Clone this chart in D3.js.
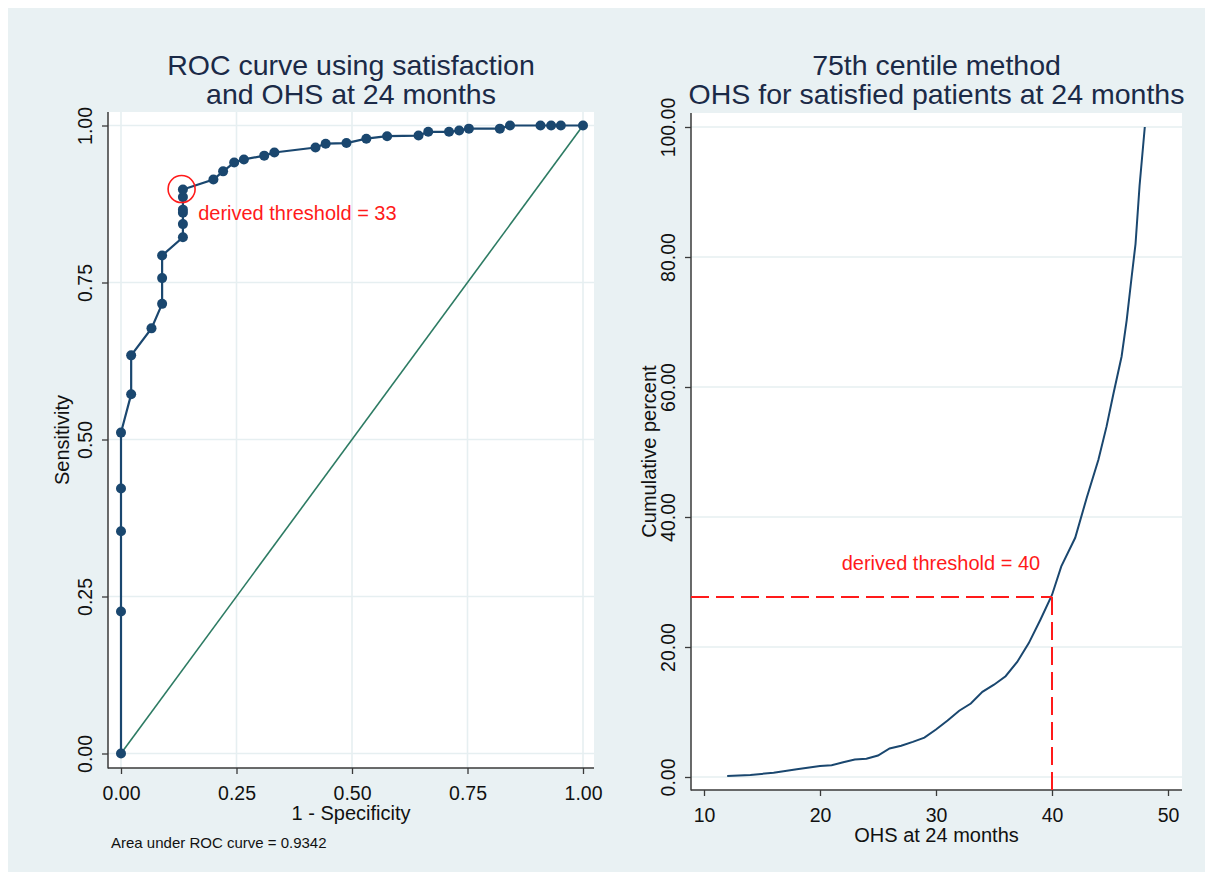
<!DOCTYPE html>
<html>
<head>
<meta charset="utf-8">
<script src="https://cdn.jsdelivr.net/npm/d3@7"></script>
<style>
  html, body { margin: 0; padding: 0; background: #ffffff; }
  svg { display: block; font-family: "Liberation Sans", Arial, Helvetica, sans-serif; }
</style>
</head>
<body>
<svg id="chart" width="1213" height="880"></svg>
<script>
// ---------------- DATA ----------------
// Left panel: ROC curve (1 - specificity, sensitivity)
const rocFPR = [0, 0, 0, 0, 0, 0.022, 0.022, 0.066, 0.089, 0.089, 0.089, 0.134, 0.134, 0.134, 0.134, 0.134, 0.134,
                0.200, 0.221, 0.245, 0.266, 0.310, 0.332, 0.421, 0.443, 0.488, 0.531, 0.576, 0.644, 0.665, 0.710,
                0.732, 0.753, 0.820, 0.842, 0.908, 0.931, 0.952, 1.0];
const rocTPR = [0, 0.226, 0.354, 0.422, 0.511, 0.572, 0.634, 0.677, 0.716, 0.757, 0.793, 0.822, 0.843, 0.861, 0.866, 0.886, 0.898,
                0.914, 0.927, 0.941, 0.946, 0.952, 0.957, 0.965, 0.971, 0.972, 0.979, 0.983, 0.984, 0.990, 0.990,
                0.992, 0.995, 0.995, 1.0, 1.0, 1.0, 1.0, 1.0];
const refLineX = [0, 1];
const refLineY = [0, 1];
const rocThresholdPoint = [0.134, 0.898];
const rocTicks = [0, 0.25, 0.5, 0.75, 1];
const rocTitle = ["ROC curve using satisfaction", "and OHS at 24 months"];
const rocXLabel = "1 - Specificity";
const rocYLabel = "Sensitivity";
const rocNote = "Area under ROC curve = 0.9342";
const rocAnnot = "derived threshold = 33";
const rocAnnotPos = [0.167, 0.85];

// Right panel: cumulative percent vs OHS
const ohsScore = [12, 14, 16, 18, 20, 21, 22, 23, 24, 25, 26, 27, 28, 29, 30, 31, 32, 33, 34, 35, 36, 37, 38, 39, 40,
                  40.8, 42, 43, 44, 44.7, 45.3, 46, 46.44, 46.87, 47.2, 47.55, 48];
const cumPct   = [0.15, 0.3, 0.67, 1.18, 1.7, 1.8, 2.26, 2.7, 2.8, 3.3, 4.4, 4.8, 5.4, 6.05, 7.3, 8.7, 10.2, 11.3, 13.1, 14.2, 15.5, 17.7, 20.6, 24.2, 28.0,
                  32.4, 36.8, 43.0, 48.8, 53.9, 59.0, 64.7, 70.3, 77.0, 82.0, 91.0, 100];
const centileThreshold = [40, 27.7];
const ohsXTicks = [10, 20, 30, 40, 50];
const ohsYTicks = [0, 20, 40, 60, 80, 100];
const ohsTitle = ["75th centile method", "OHS for satisfied patients at 24 months"];
const ohsXLabel = "OHS at 24 months";
const ohsYLabel = "Cumulative percent";
const ohsAnnot = "derived threshold = 40";
const ohsAnnotPos = [21.87, 31.8];

// ---------------- STYLE ----------------
const NAVY = "#1a476f", GREEN = "#2d7b63", RED = "#ff1a1a", BG = "#e9f1f3", GRID = "#e6eff1",
      AXIS = "#3a3a3a", TEXT = "#111111", TITLE = "#1b2a47";

const svg = d3.select("#chart");
svg.append("rect").attr("x", 0).attr("y", 0).attr("width", 1213).attr("height", 880).attr("fill", "#ffffff");
svg.append("rect").attr("x", 8).attr("y", 8).attr("width", 1197).attr("height", 864).attr("fill", BG);

function panel(cfg) {
  const g = svg.append("g");
  const [x0, x1, y0, y1] = cfg.box; // plot region: left, right, top, bottom
  const x = d3.scaleLinear().domain(cfg.xDom).range(cfg.xRange);
  const y = d3.scaleLinear().domain(cfg.yDom).range(cfg.yRange);
  g.append("rect").attr("x", x0).attr("y", y0).attr("width", x1 - x0).attr("height", y1 - y0).attr("fill", "#fff");

  // grid
  g.selectAll(null).data(cfg.yTicks).join("line")
    .attr("x1", x0).attr("x2", x1).attr("y1", d => y(d)).attr("y2", d => y(d))
    .attr("stroke", GRID).attr("stroke-width", 1.6);
  if (cfg.xGrid) {
    g.selectAll(null).data(cfg.xTicks).join("line")
      .attr("y1", y0).attr("y2", y1).attr("x1", d => x(d)).attr("x2", d => x(d))
      .attr("stroke", GRID).attr("stroke-width", 1.6);
  }

  // axes
  const ax = g.append("g").attr("transform", `translate(0,${y1})`)
    .call(d3.axisBottom(x).tickValues(cfg.xTicks).tickFormat(cfg.xFmt).tickSize(6).tickSizeOuter(0));
  ax.select(".domain").remove();
  ax.selectAll(".tick line").attr("stroke", AXIS).attr("stroke-width", 1.3);
  ax.selectAll(".tick text").attr("y", 32).attr("dy", 0).attr("font-size", 19.5).attr("fill", TEXT)
    .attr("font-family", "Liberation Sans, Arial, sans-serif");

  const ay = g.append("g").attr("transform", `translate(${x0},0)`)
    .call(d3.axisLeft(y).tickValues(cfg.yTicks).tickFormat(d3.format(".2f")).tickSize(6).tickSizeOuter(0));
  ay.select(".domain").remove();
  ay.selectAll(".tick line").attr("stroke", AXIS).attr("stroke-width", 1.3);
  ay.selectAll(".tick text").attr("transform", "rotate(-90)").attr("x", 0).attr("y", -16).attr("dy", 0)
    .attr("text-anchor", "middle").attr("font-size", 19.5).attr("fill", TEXT)
    .attr("font-family", "Liberation Sans, Arial, sans-serif");

  g.append("line").attr("x1", x0).attr("x2", x0).attr("y1", y0).attr("y2", y1 + 0.5).attr("stroke", AXIS).attr("stroke-width", 1.5);
  g.append("line").attr("x1", x0).attr("x2", x1).attr("y1", y1).attr("y2", y1).attr("stroke", AXIS).attr("stroke-width", 1.5);

  // titles
  const cx = (x0 + x1) / 2;
  g.append("text").attr("x", cx).attr("y", 75).attr("text-anchor", "middle").attr("font-size", 28.5).attr("fill", TITLE).text(cfg.title[0]);
  g.append("text").attr("x", cx).attr("y", 104).attr("text-anchor", "middle").attr("font-size", 28.5).attr("fill", TITLE).text(cfg.title[1]);
  g.append("text").attr("x", cx).attr("y", y1 + 52).attr("text-anchor", "middle").attr("font-size", 20).attr("fill", TEXT).text(cfg.xLabel);
  g.append("text").attr("transform", `translate(${x0 - cfg.yLabelOff},${(y0 + y1) / 2}) rotate(-90)`)
    .attr("text-anchor", "middle").attr("font-size", 20).attr("fill", TEXT).text(cfg.yLabel);
  return { g, x, y };
}

// ---------- Left: ROC ----------
const L = panel({
  box: [108, 594, 112, 768],
  xDom: [0, 1], xRange: [121, 583],
  yDom: [0, 1], yRange: [753.5, 125.5],
  xTicks: rocTicks, yTicks: rocTicks, xFmt: d3.format(".2f"), xGrid: true,
  title: rocTitle, xLabel: rocXLabel, yLabel: rocYLabel, yLabelOff: 39
});
const rocPts = rocFPR.map((d, i) => [d, rocTPR[i]]);
L.g.append("path").datum(refLineX.map((d, i) => [d, refLineY[i]]))
  .attr("d", d3.line().x(d => L.x(d[0])).y(d => L.y(d[1])))
  .attr("fill", "none").attr("stroke", GREEN).attr("stroke-width", 1.6);
L.g.append("path").datum(rocPts)
  .attr("d", d3.line().x(d => L.x(d[0])).y(d => L.y(d[1])))
  .attr("fill", "none").attr("stroke", NAVY).attr("stroke-width", 2.2);
L.g.selectAll(null).data(rocPts).join("circle")
  .attr("cx", d => L.x(d[0])).attr("cy", d => L.y(d[1])).attr("r", 5).attr("fill", NAVY);
L.g.append("circle").attr("cx", L.x(rocThresholdPoint[0]) - 1.3).attr("cy", L.y(rocThresholdPoint[1]) - 0.5)
  .attr("r", 13.5).attr("fill", "none").attr("stroke", RED).attr("stroke-width", 1.6);
L.g.append("text").attr("x", L.x(rocAnnotPos[0])).attr("y", L.y(rocAnnotPos[1]))
  .attr("font-size", 20).attr("fill", RED).text(rocAnnot);
L.g.append("text").attr("x", 111).attr("y", 848).attr("font-size", 15).attr("fill", TEXT).text(rocNote);

// ---------- Right: cumulative ----------
const R = panel({
  box: [691, 1182, 113, 790],
  xDom: [10, 50], xRange: [704, 1168],
  yDom: [0, 100], yRange: [777, 127],
  xTicks: ohsXTicks, yTicks: ohsYTicks, xFmt: d3.format("d"), xGrid: false,
  title: ohsTitle, xLabel: ohsXLabel, yLabel: ohsYLabel, yLabelOff: 35
});
R.g.append("path").datum(ohsScore.map((d, i) => [d, cumPct[i]]))
  .attr("d", d3.line().x(d => R.x(d[0])).y(d => R.y(d[1])))
  .attr("fill", "none").attr("stroke", NAVY).attr("stroke-width", 2);
const xMinR = R.x.invert(691), yMinR = R.y.invert(790);
R.g.append("line").attr("x1", R.x(xMinR)).attr("x2", R.x(centileThreshold[0]))
  .attr("y1", R.y(centileThreshold[1])).attr("y2", R.y(centileThreshold[1]))
  .attr("stroke", RED).attr("stroke-width", 2).attr("stroke-dasharray", "18,7");
R.g.append("line").attr("x1", R.x(centileThreshold[0])).attr("x2", R.x(centileThreshold[0]))
  .attr("y1", R.y(centileThreshold[1])).attr("y2", R.y(yMinR))
  .attr("stroke", RED).attr("stroke-width", 2).attr("stroke-dasharray", "18,7");
R.g.append("text").attr("x", R.x(ohsAnnotPos[0])).attr("y", R.y(ohsAnnotPos[1]))
  .attr("font-size", 20).attr("fill", RED).text(ohsAnnot);
</script>
</body>
</html>
